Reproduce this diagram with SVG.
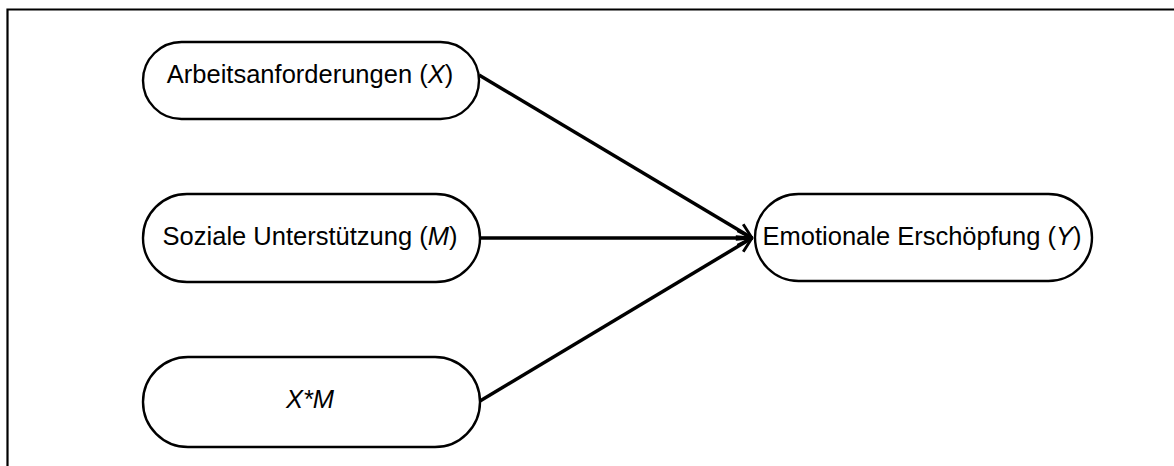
<svg xmlns="http://www.w3.org/2000/svg" width="1174" height="466" viewBox="0 0 1174 466">
<style>
.node{fill:#fff;stroke:#000;stroke-width:2.4}
.lbl{font-family:"Liberation Sans",Arial,sans-serif;font-size:25.5px;fill:#000;text-anchor:middle}
.edge{stroke:#000;stroke-width:3.5;fill:none}
</style>
<defs>
<marker id="arr" viewBox="0 0 12 12" refX="11" refY="6" markerWidth="5" markerHeight="5" markerUnits="strokeWidth" orient="auto">
<path d="M1,1 L11,6 L1,11" fill="none" stroke="#000" stroke-width="2"/>
</marker>
</defs>
<rect x="0" y="0" width="1174" height="466" fill="#fff"/>
<path d="M7.5,475 V9.5 H1180" fill="none" stroke="#000" stroke-width="2.2"/>
<g id="edges">
<line class="edge" x1="479" y1="75" x2="752" y2="238" marker-end="url(#arr)"/>
<line class="edge" x1="480" y1="238" x2="752" y2="238" marker-end="url(#arr)"/>
<line class="edge" x1="480" y1="401" x2="752" y2="238" marker-end="url(#arr)"/>
</g>
<g id="node-x">
<rect class="node" x="143" y="42" width="336" height="77" rx="38.5"/>
<text class="lbl" x="310" y="83">Arbeitsanforderungen (<tspan font-style="italic">X</tspan>)</text>
</g>
<g id="node-m">
<rect class="node" x="143" y="194" width="337" height="88" rx="44"/>
<text class="lbl" x="310" y="245">Soziale Unterstützung (<tspan font-style="italic">M</tspan>)</text>
</g>
<g id="node-xm">
<rect class="node" x="143" y="357" width="337" height="90" rx="45"/>
<text class="lbl" x="310" y="408" font-style="italic">X*M</text>
</g>
<g id="node-y">
<rect class="node" x="755" y="194" width="337" height="87" rx="43.5"/>
<text class="lbl" x="922" y="245">Emotionale Erschöpfung (<tspan font-style="italic">Y</tspan>)</text>
</g>
</svg>
